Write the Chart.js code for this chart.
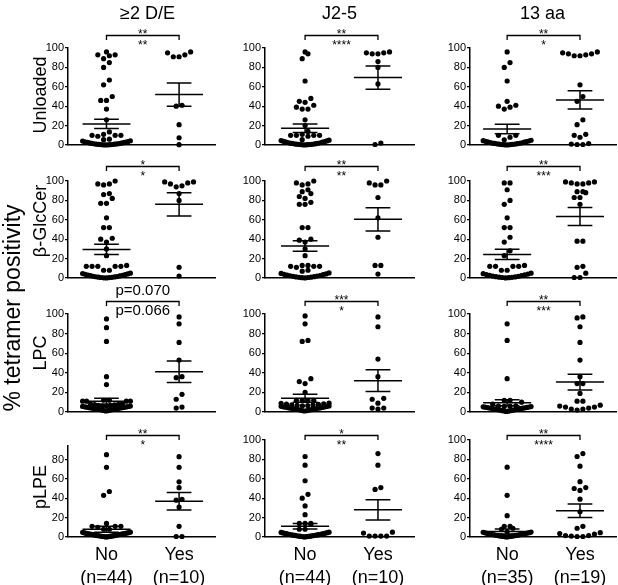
<!DOCTYPE html>
<html>
<head>
<meta charset="utf-8">
<script src="https://cdn.jsdelivr.net/npm/chart.js@4.4.0/dist/chart.umd.min.js"></script>
<style>
  html, body { margin: 0; padding: 0; background: #fff; }
  #fig { position: relative; width: 618px; height: 585px; overflow: hidden;
         font-family: "Liberation Sans", Arial, sans-serif; color: #000; }
  #fig canvas { position: absolute; }
  .t { position: absolute; white-space: nowrap; line-height: 1; transform: translate(-50%, -50%); }
  .r { transform: translate(-50%, -50%) rotate(-90deg); }
</style>
</head>
<body>
<div id="fig"></div>
<script>
// labels
const columns = ['≥2 D/E', 'J2-5', '13 aa'];
const rowLabels = ['Unloaded', 'β-GlcCer', 'LPC', 'pLPE'];
const groups = ['No', 'Yes'];
const groupN = [[44, 10], [44, 10], [35, 19]];
const yTicks = [0, 20, 40, 60, 80, 100];

// Unloaded
const unloadedDENo = [96, 93, 93, 92, 89, 85, 80, 67, 62, 50, 46, 46, 37, 26, 13.5, 10, 10, 11, 10, 9, 6, 5.5,
  0.1, 0.2, 0.3, 0.4, 0.5, 0.6, 0.8, 0.9, 1.1, 1.3, 1.5, 1.7, 1.9, 2.1, 2.4, 2.7, 3.0, 3.3, 3.6, 4.0, 4.4, 0.2];
const unloadedDEYes = [96, 95, 93, 91, 91, 41, 40, 21, 7.5, 0.3];
const unloadedJ25No = [96, 94, 89, 66, 48, 45, 44, 41, 39, 37, 37, 26, 20, 14, 10, 10, 10, 9, 10, 11,
  0.1, 0.2, 0.3, 0.4, 0.5, 0.6, 0.7, 0.9, 1.0, 1.2, 1.4, 1.6, 1.8, 2.0, 2.3, 2.6, 2.9, 3.2, 3.5, 3.8, 4.2, 4.6, 5.0, 5.5];
const unloadedJ25Yes = [96, 95, 95, 94, 94, 86, 80, 63, 0.5, 2];
const unloaded13No = [96, 85, 80, 66, 45, 41, 40, 39, 37, 10, 10, 8,
  0.1, 0.2, 0.3, 0.4, 0.5, 0.7, 0.8, 1.0, 1.2, 1.4, 1.6, 1.8, 2.0, 2.3, 2.6, 2.9, 3.2, 3.5, 3.8, 4.1, 4.5, 4.9, 5.4];
const unloaded13Yes = [96, 95, 94, 94, 93, 92, 92, 62, 50, 45, 26, 21, 11, 10, 8, 1, 0.5, 0.5, 1.5];

// beta-GlcCer
const glcDENo = [100, 97, 97, 96, 87, 86, 82, 77, 77, 62, 52, 52, 41, 40, 37, 30, 23, 13, 12, 12, 12, 12, 12, 8, 8,
  0.1, 0.2, 0.4, 0.5, 0.7, 0.9, 1.1, 1.3, 1.5, 1.8, 2.1, 2.4, 2.7, 3.0, 3.4, 3.8, 4.2, 4.6, 5.0];
const glcDEYes = [99, 99, 98, 97, 95, 94, 87, 80, 11, 2];
const glcJ25No = [100, 98, 97, 96, 91, 89, 87, 84, 82, 78, 76, 76, 52, 52, 40, 39, 37, 30, 23, 13, 13, 12, 12, 11, 12, 8, 7,
  0.1, 0.3, 0.5, 0.7, 0.9, 1.1, 1.4, 1.7, 2.0, 2.3, 2.6, 3.0, 3.4, 3.8, 4.2, 4.7, 5.2];
const glcJ25Yes = [100, 98, 96, 96, 83, 62, 42, 13, 13, 4];
const glc13No = [98, 98, 91, 80, 76, 62, 52, 52, 42, 37, 28, 23, 13, 12, 12, 12, 12, 8, 8,
  0.1, 0.3, 0.5, 0.7, 0.9, 1.1, 1.4, 1.7, 2.0, 2.4, 2.8, 3.2, 3.6, 4.0, 4.5, 5.0];
const glc13Yes = [99, 99, 98, 98, 97, 97, 89, 89, 88, 83, 83, 76, 38, 38, 12, 11, 5, 0.5, 0.5];

// LPC
const lpcDENo = [95, 86, 72, 36, 28, 12, 11, 11, 11, 11, 12,
  1.0, 1.4, 1.6, 1.9, 2.2, 2.3, 2.6, 2.8, 2.9, 3.2, 3.3, 3.6, 3.7, 4.0, 4.1, 4.4, 4.5, 4.8, 4.9, 5.2,
  5.3, 5.6, 5.7, 6.0, 6.2, 6.3, 6.7, 6.9, 7.3, 7.5, 7.9, 8.1, 8.5];
const lpcDEYes = [97, 90, 71, 53, 36, 35, 18, 13, 5, 4];
const lpcJ25No = [98, 90, 73, 72, 34, 31, 29, 20, 12, 12, 12, 12,
  1.0, 1.3, 1.7, 1.9, 2.2, 2.4, 2.7, 2.8, 3.1, 3.3, 3.5, 3.8, 3.9, 4.2, 4.4, 4.6, 4.9, 5.1,
  5.3, 5.6, 5.8, 6.1, 6.3, 6.6, 6.8, 7.1, 7.4, 7.7, 8.0, 8.3, 8.7, 9.0];
const lpcJ25Yes = [97, 87, 54, 36, 14, 13, 9, 4, 4, 3];
const lpc13No = [90, 73, 34, 12, 12, 10, 8,
  0.5, 0.8, 1.0, 1.3, 1.5, 1.7, 2.0, 2.2, 2.4, 2.6, 2.9, 3.1, 3.3, 3.5, 3.7, 3.9, 4.1, 4.3, 4.5, 4.7,
  4.9, 5.1, 5.3, 5.5, 5.7, 5.9, 6.1, 6.4];
const lpc13Yes = [97, 96, 87, 71, 53, 36, 29, 29, 19, 11, 11, 7, 6, 5, 5, 4, 3, 3, 2];

// pLPE
const plpeDENo = [85, 72, 47, 43, 14, 11, 11, 11, 10, 8, 8,
  0.1, 0.2, 0.3, 0.5, 0.6, 0.7, 0.9, 1.0, 1.1, 1.3, 1.4, 1.5, 1.7, 1.8, 2.0, 2.1, 2.3, 2.4, 2.6, 2.7,
  2.9, 3.0, 3.2, 3.3, 3.5, 3.6, 3.8, 4.0, 4.2, 4.4, 4.6, 4.8, 5.0];
const plpeDEYes = [83, 72, 57, 51, 39, 38, 31, 11, 0.5, 0.5];
const plpeJ25No = [83, 74, 58, 44, 40, 32, 23, 14, 14, 13, 14, 8, 8,
  0.1, 0.2, 0.4, 0.5, 0.6, 0.8, 0.9, 1.0, 1.2, 1.3, 1.5, 1.6, 1.8, 1.9, 2.1, 2.3, 2.4, 2.6, 2.8,
  3.0, 3.2, 3.4, 3.6, 3.8, 4.0, 4.2, 4.5, 4.7, 5.0];
const plpeJ25Yes = [86, 74, 51, 49, 5, 1, 1, 1, 1, 4];
const plpe13No = [72, 43, 22, 11, 11, 9, 8,
  0.1, 0.2, 0.4, 0.5, 0.7, 0.8, 1.0, 1.1, 1.3, 1.5, 1.6, 1.8, 2.0, 2.2, 2.4, 2.6, 2.8, 3.0, 3.2,
  3.4, 3.6, 3.8, 4.0, 4.3, 4.5, 4.8, 5.1, 5.5];
const plpe13Yes = [86, 83, 73, 57, 51, 50, 48, 39, 26, 11, 9, 4.5, 3, 1.5, 0.5, 0.5, 1, 1.5, 3.5];

// mean and SEM, [No, Yes] per column
const meanUnloaded = [[21.7, 52], [17.3, 69.5], [16.5, 46.5]];
const semUnloaded = [[4.8, 12], [4.4, 12], [5, 9.5]];
const meanGlcCer = [[29.5, 76], [33, 60.5], [24.3, 63.5]];
const semGlcCer = [[5.2, 12], [5.5, 12], [5.3, 9.3]];
const meanLPC = [[11, 41], [14, 32], [9.5, 30.5]];
const semLPC = [[3, 11], [4, 11], [3, 8]];
const meanPLPE = [[8, 37], [11, 28], [5.7, 27]];
const semPLPE = [[3, 9], [2.8, 10.5], [2.5, 7]];

// significance labels, [above bracket, below bracket]
const sigUnloaded = [['**', '**'], ['**', '****'], ['**', '*']];
const sigGlcCer = [['*', '*'], ['**', '**'], ['**', '***']];
const sigLPC = [['p=0.070', 'p=0.066'], ['***', '*'], ['**', '***']];
const sigPLPE = [['**', '*'], ['*', '**'], ['**', '****']];

const panels = [
  [[unloadedDENo, unloadedDEYes], [unloadedJ25No, unloadedJ25Yes], [unloaded13No, unloaded13Yes]],
  [[glcDENo, glcDEYes], [glcJ25No, glcJ25Yes], [glc13No, glc13Yes]],
  [[lpcDENo, lpcDEYes], [lpcJ25No, lpcJ25Yes], [lpc13No, lpc13Yes]],
  [[plpeDENo, plpeDEYes], [plpeJ25No, plpeJ25Yes], [plpe13No, plpe13Yes]]
];
const means = [meanUnloaded, meanGlcCer, meanLPC, meanPLPE];
const sems = [semUnloaded, semGlcCer, semLPC, semPLPE];
const sigs = [sigUnloaded, sigGlcCer, sigLPC, sigPLPE];

// layout
const FONT = '"Liberation Sans", Arial, sans-serif';
const X_PX = 73, YW = 36, TOP = 34, X_MAX = 2.5;
const colAxis = [68, 265, 470];
const colMin = [0.47, 0.45, 0.49];
const rowZero = [145, 278, 412, 537];
const rowPPU = [0.97, 0.97, 0.977, 0.966];
const bracketOff = [13.3, 15, 13.3, 4.7];
const BIN = 5, SPACE = 5.8, HALF = 24;

// Prism-like dot layout: dots within one bin sit on a row, centre-out,
// squeezed together when the row would get wider than the mean line
function spread(vals, ppu) {
  const order = vals.map((v, i) => i).sort((a, b) => vals[a] - vals[b]);
  const dx = [];
  let i = 0;
  while (i < order.length) {
    const start = vals[order[i]] * ppu;
    const bin = [];
    while (i < order.length && vals[order[i]] * ppu - start < BIN) bin.push(order[i++]);
    const n = bin.length;
    const s = n > 1 ? Math.min(SPACE, 2 * HALF / (n - 1)) : 0;
    const slots = bin.map((_, k) => (k - (n - 1) / 2) * s)
      .sort((a, b) => (Math.round(Math.abs(a) * 1000) - Math.round(Math.abs(b) * 1000)) || (a - b));
    bin.forEach((idx, k) => { dx[idx] = slots[k]; });
  }
  return dx;
}

const meanSemPlugin = {
  id: 'meanSem',
  afterDatasetsDraw(chart, args, opts) {
    const { ctx, scales: { x, y } } = chart;
    ctx.save();
    ctx.strokeStyle = '#000';
    ctx.lineWidth = 1.5;
    opts.mean.forEach((m, i) => {
      const cx = x.getPixelForValue(i + 1);
      const hw = x.getPixelForValue(i + 1.33) - cx;
      const sw = x.getPixelForValue(i + 1.17) - cx;
      const ym = y.getPixelForValue(m);
      const yu = y.getPixelForValue(m + opts.sem[i]);
      const yl = y.getPixelForValue(m - opts.sem[i]);
      ctx.beginPath();
      ctx.moveTo(cx - hw, ym); ctx.lineTo(cx + hw, ym);
      ctx.moveTo(cx - sw, yu); ctx.lineTo(cx + sw, yu);
      ctx.moveTo(cx - sw, yl); ctx.lineTo(cx + sw, yl);
      ctx.moveTo(cx, yu); ctx.lineTo(cx, yl);
      ctx.stroke();
    });
    ctx.restore();
  }
};

const bracketPlugin = {
  id: 'bracket',
  afterDraw(chart, args, opts) {
    const { ctx, scales: { x, y } } = chart;
    const x1 = x.getPixelForValue(1), x2 = x.getPixelForValue(2);
    const yb = Math.round(y.getPixelForValue(100) - opts.off) + 0.5;
    ctx.save();
    ctx.strokeStyle = '#000';
    ctx.lineWidth = 1.3;
    ctx.beginPath();
    ctx.moveTo(x1, yb + 4.5); ctx.lineTo(x1, yb); ctx.lineTo(x2, yb); ctx.lineTo(x2, yb + 4.5);
    ctx.stroke();
    ctx.fillStyle = '#000';
    ctx.textAlign = 'center';
    opts.labels.forEach((t, k) => {
      if (t.startsWith('p')) {
        ctx.font = '15px ' + FONT;
        ctx.textBaseline = 'middle';
        ctx.fillText(t, (x1 + x2) / 2, k === 0 ? yb - 11 : yb + 9.5);
      } else {
        ctx.font = '12px ' + FONT;
        ctx.textBaseline = 'alphabetic';
        ctx.fillText(t, (x1 + x2) / 2, (k === 0 ? yb - 5 : yb + 6.5) + 7);
      }
    });
    ctx.restore();
  }
};

const fig = document.getElementById('fig');

function addText(txt, x, y, size, rotate) {
  const d = document.createElement('div');
  d.className = rotate ? 't r' : 't';
  d.style.left = x + 'px';
  d.style.top = y + 'px';
  d.style.fontSize = size + 'px';
  d.textContent = txt;
  fig.appendChild(d);
}

panels.forEach((row, r) => {
  row.forEach((pair, c) => {
    const yMax = (r === 3 && c === 0) ? 94 : 100;
    const ppu = rowPPU[r];
    const bottomExtra = r === 3 ? 48 : 10;
    const top = Math.round(rowZero[r] - yMax * ppu - TOP);
    const height = rowZero[r] + bottomExtra - top;
    const left = colAxis[c] - YW;
    const width = Math.round(YW + (X_MAX - colMin[c]) * X_PX + 2);

    const canvas = document.createElement('canvas');
    canvas.width = width;
    canvas.height = height;
    canvas.style.left = left + 'px';
    canvas.style.top = top + 'px';
    fig.appendChild(canvas);

    const datasets = pair.map((vals, g) => {
      const dx = spread(vals, ppu);
      return {
        data: vals.map((v, i) => ({ x: g + 1 + dx[i] / X_PX, y: v })),
        backgroundColor: '#000',
        borderWidth: 0,
        pointRadius: 2.6,
        pointHoverRadius: 2.6,
        clip: false
      };
    });

    new Chart(canvas, {
      type: 'scatter',
      data: { datasets },
      plugins: [meanSemPlugin, bracketPlugin],
      options: {
        responsive: false,
        animation: false,
        events: [],
        layout: { padding: { top: TOP, right: 2, bottom: r === 3 ? 0 : 10, left: 0 } },
        plugins: {
          legend: { display: false },
          tooltip: { enabled: false },
          meanSem: { mean: means[r][c], sem: sems[r][c] },
          bracket: { labels: sigs[r][c], off: bracketOff[r] }
        },
        scales: {
          x: {
            type: 'linear',
            min: colMin[c],
            max: X_MAX,
            grid: { display: false, drawTicks: false },
            border: { display: true, color: '#000', width: 1.5 },
            afterBuildTicks: s => { s.ticks = [{ value: 1 }, { value: 2 }]; },
            afterFit: s => { s.height = r === 3 ? 48 : 0; },
            ticks: {
              display: r === 3,
              padding: 7,
              color: '#000',
              font: { family: FONT, size: 18, lineHeight: 1.25 },
              callback: v => [groups[v - 1], '(n=' + groupN[c][v - 1] + ')']
            }
          },
          y: {
            min: 0,
            max: yMax,
            grid: { display: true, drawOnChartArea: false, drawTicks: true, tickLength: 3, color: '#000', lineWidth: 1.3 },
            border: { display: true, color: '#000', width: 1.5 },
            afterBuildTicks: s => { s.ticks = yTicks.filter(v => v <= yMax).map(v => ({ value: v })); },
            afterFit: s => { s.width = YW; },
            ticks: { padding: 1, color: '#000', font: { family: FONT, size: 11 } }
          }
        }
      }
    });
  });
});

// titles and axis labels
const colCenter = [147.5, 339.5, 542.5];
columns.forEach((t, c) => addText(t, colCenter[c], 13, 18, false));
const rowCenter = [95, 221, 353, 487];
rowLabels.forEach((t, r) => addText(t, 40, rowCenter[r], 18, true));
addText('% tetramer positivity', 12, 308, 23, true);
</script>
</body>
</html>
